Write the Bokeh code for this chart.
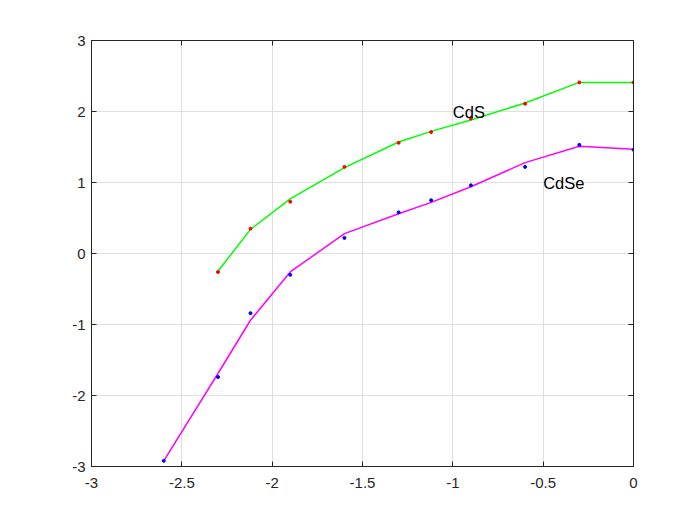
from bokeh.plotting import figure
from bokeh.models import LinearAxis, FixedTicker, Range1d, Label, Grid
from bokeh.embed import file_html
from bokeh.resources import INLINE

# Data
cds_x = [-2.30, -2.12, -1.90, -1.60, -1.30, -1.12, -0.90, -0.60, -0.30, 0.0]
cds_pts = [-0.26, 0.35, 0.73, 1.22, 1.56, 1.71, 1.90, 2.11, 2.41, 2.41]
cds_fit = [-0.25, 0.34, 0.77, 1.21, 1.57, 1.72, 1.88, 2.12, 2.41, 2.41]

cdse_x = [-2.60, -2.30, -2.12, -1.90, -1.60, -1.30, -1.12, -0.90, -0.60, -0.30, 0.0]
cdse_pts = [-2.92, -1.74, -0.84, -0.30, 0.22, 0.58, 0.75, 0.96, 1.22, 1.53, 1.46]
cdse_fit = [-2.92, -1.69, -0.94, -0.26, 0.28, 0.56, 0.72, 0.94, 1.28, 1.51, 1.47]

x_ticks = [-3, -2.5, -2, -1.5, -1, -0.5, 0]
x_labels = ["-3", "-2.5", "-2", "-1.5", "-1", "-0.5", "0"]
y_ticks = [-3, -2, -1, 0, 1, 2, 3]
y_labels = ["-3", "-2", "-1", "0", "1", "2", "3"]

labels = [("CdS", -1.0, 2.0), ("CdSe", -0.5, 1.0)]

FONT = "Liberation Sans"
AX = "#262626"

p = figure(width=684, height=509, output_backend="svg", toolbar_location=None,
           x_range=Range1d(-3, 0), y_range=Range1d(-3, 3),
           min_border_left=91, min_border_right=51, min_border_top=40, min_border_bottom=43,
           x_axis_location=None, y_axis_location=None)
p.outline_line_color = AX
p.outline_line_width = 1
p.background_fill_color = "white"
p.border_fill_color = "white"

def make_axis(ticks, labs, show_labels, standoff=5):
    ax = LinearAxis(ticker=FixedTicker(ticks=ticks))
    ax.major_label_overrides = {t: l for t, l in zip(ticks, labs)}
    ax.major_tick_in = 5
    ax.major_tick_out = 0
    ax.minor_tick_in = 0
    ax.minor_tick_out = 0
    ax.axis_line_color = AX
    ax.major_tick_line_color = AX
    ax.major_label_text_font = FONT
    ax.major_label_text_font_size = "15px"
    ax.major_label_standoff = standoff
    ax.major_label_text_color = AX if show_labels else None
    if not show_labels:
        ax.major_label_text_font_size = "0px"
    return ax

p.add_layout(make_axis(x_ticks, x_labels, True, 11), "below")
p.add_layout(make_axis(y_ticks, y_labels, True, 6), "left")
p.add_layout(make_axis(x_ticks, x_labels, False), "above")
p.add_layout(make_axis(y_ticks, y_labels, False), "right")

p.add_layout(Grid(dimension=0, ticker=FixedTicker(ticks=x_ticks), grid_line_color="#dfdfdf", grid_line_width=1))
p.add_layout(Grid(dimension=1, ticker=FixedTicker(ticks=y_ticks), grid_line_color="#dfdfdf", grid_line_width=1))

p.line(cds_x, cds_fit, line_color="#00ff00", line_width=1.5)
p.line(cdse_x, cdse_fit, line_color="#ff00ff", line_width=1.5)
p.scatter(cds_x, cds_pts, size=3, fill_color="#ff0000", line_color="#ff0000")
p.scatter(cdse_x, cdse_pts, size=3, fill_color="#0000ff", line_color="#0000ff")

for txt, lx, ly in labels:
    p.add_layout(Label(x=lx, y=ly, text=txt, text_font=FONT, text_font_size="16.5px",
                       text_align="left", text_baseline="middle", text_color="black"))

open("out.html", "w").write(file_html(p, INLINE))
